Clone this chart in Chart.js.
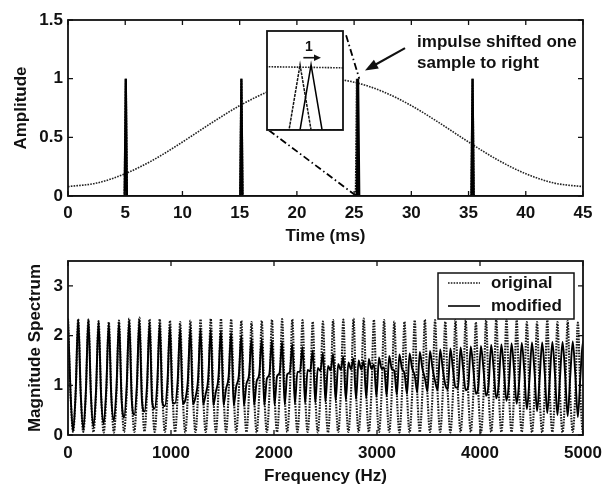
<!DOCTYPE html>
<html>
<head>
<meta charset="utf-8">
<script src="https://cdn.jsdelivr.net/npm/chart.js@4.4.1/dist/chart.umd.min.js"></script>
<style>
  html, body { margin: 0; padding: 0; background: #fff; }
  #wrap { position: relative; width: 603px; height: 487px; overflow: hidden; background: #fff; }
  canvas { position: absolute; }
</style>
</head>
<body>
<div id="wrap">
  <canvas id="timeChart" width="603" height="250" style="left:0;top:0"></canvas>
  <canvas id="zoomChart" width="78" height="101" style="left:266px;top:30px"></canvas>
  <canvas id="specChart" width="603" height="237" style="left:0;top:250px"></canvas>
</div>
<script>
const ink = "#111";
const font = { family: '"Liberation Sans", Arial, sans-serif', size: 17, weight: "bold" };

// top panel: window + impulse trains (ms)
const timeTicks = [0, 5, 10, 15, 20, 25, 30, 35, 40, 45];
const ampTicks = [0, 0.5, 1, 1.5];
const windowTimes = [0, 2.5, 5, 7.5, 10, 12.5, 15, 17.5, 20, 22.5, 25, 27.5, 30, 32.5, 35, 37.5, 40, 42.5, 45];
const windowValues = [0.08, 0.11, 0.19, 0.31, 0.46, 0.62, 0.77, 0.89, 0.97, 1.0, 0.97, 0.89, 0.77, 0.62, 0.46, 0.31, 0.19, 0.11, 0.08];
const origImpulseTimes = [5.05, 15.15, 25.25, 35.35];
const modImpulseTimes = [5.05, 15.15, 25.35, 35.35];
const impulseHeights = [1, 1, 1, 1];
const sampleMs = 0.1;

// bottom panel: magnitude spectra, 4 readings per ripple
const freqTicks = [0, 1000, 2000, 3000, 4000, 5000];
const magTicks = [0, 1, 2, 3];
const lobeSpacingHz = 99;
const origPeak = [2.34, 2.33, 2.32, 2.29, 2.27, 2.30, 2.34, 2.36, 2.33, 2.33,
  2.30, 2.27, 2.30, 2.33, 2.34, 2.34, 2.33, 2.30, 2.27, 2.30,
  2.32, 2.33, 2.33, 2.31, 2.28, 2.28, 2.31, 2.32, 2.34, 2.34,
  2.32, 2.31, 2.28, 2.28, 2.31, 2.32, 2.31, 2.28, 2.31, 2.31,
  2.27, 2.31, 2.34, 2.34, 2.31, 2.27, 2.27, 2.31, 2.27, 2.29, 2.26];
const origShoulder = [0.84, 0.84, 0.83, 0.82, 0.81, 0.82, 0.84, 0.85, 0.84, 0.84,
  0.82, 0.81, 0.82, 0.84, 0.84, 0.84, 0.84, 0.82, 0.81, 0.82,
  0.83, 0.84, 0.84, 0.83, 0.82, 0.82, 0.83, 0.83, 0.84, 0.84,
  0.83, 0.83, 0.82, 0.82, 0.83, 0.83, 0.83, 0.82, 0.83, 0.83,
  0.81, 0.83, 0.84, 0.84, 0.83, 0.81, 0.81, 0.83, 0.81, 0.82, 0.81];
const origDip = [0.06, 0.06, 0.06, 0.05, 0.05, 0.06, 0.06, 0.07, 0.06, 0.06,
  0.06, 0.05, 0.06, 0.06, 0.06, 0.06, 0.06, 0.06, 0.05, 0.06,
  0.06, 0.06, 0.06, 0.06, 0.05, 0.05, 0.06, 0.06, 0.06, 0.06,
  0.06, 0.06, 0.05, 0.05, 0.06, 0.06, 0.06, 0.05, 0.06, 0.06,
  0.05, 0.06, 0.06, 0.06, 0.06, 0.05, 0.05, 0.06, 0.05, 0.06, 0.05];
const modPeak = [2.34, 2.33, 2.32, 2.28, 2.25, 2.27, 2.30, 2.31, 2.26, 2.24,
  2.19, 2.14, 2.15, 2.15, 2.13, 2.10, 2.06, 2.00, 1.94, 1.93,
  1.90, 1.87, 1.83, 1.77, 1.70, 1.65, 1.63, 1.58, 1.54, 1.49,
  1.42, 1.36, 1.29, 1.24, 1.20, 1.14, 1.08, 1.01, 0.96, 0.90,
  0.83, 0.79, 0.74, 0.69, 0.63, 0.52, 0.48, 0.44, 0.40, 0.38, 0.36];
const modRise = [0.84, 0.82, 0.79, 0.77, 0.75, 0.73, 0.71, 0.69, 0.67, 0.66,
  0.64, 0.63, 0.62, 0.61, 0.60, 0.60, 0.59, 0.59, 0.60, 0.60,
  0.61, 0.61, 0.63, 0.64, 0.65, 0.67, 0.69, 0.70, 0.72, 0.74,
  0.77, 0.79, 0.81, 0.83, 0.86, 0.88, 0.90, 0.92, 0.95, 0.97,
  0.99, 1.02, 1.04, 1.06, 1.08, 1.10, 1.12, 1.14, 1.16, 1.17, 1.19];
const modHalf = [0.07, 0.11, 0.17, 0.23, 0.29, 0.35, 0.41, 0.47, 0.53, 0.58,
  0.64, 0.70, 0.76, 0.82, 0.87, 0.93, 0.98, 1.03, 1.08, 1.13,
  1.18, 1.22, 1.27, 1.31, 1.35, 1.39, 1.43, 1.46, 1.50, 1.53,
  1.56, 1.59, 1.62, 1.64, 1.67, 1.69, 1.72, 1.74, 1.76, 1.78,
  1.79, 1.81, 1.82, 1.84, 1.85, 1.86, 1.86, 1.87, 1.87, 1.88, 1.88];
const modFall = [0.85, 0.87, 0.90, 0.92, 0.94, 0.97, 0.99, 1.01, 1.03, 1.05,
  1.07, 1.09, 1.11, 1.13, 1.15, 1.17, 1.19, 1.20, 1.22, 1.23,
  1.25, 1.26, 1.27, 1.28, 1.29, 1.30, 1.31, 1.32, 1.32, 1.33,
  1.33, 1.33, 1.34, 1.34, 1.34, 1.34, 1.33, 1.33, 1.33, 1.32,
  1.31, 1.31, 1.30, 1.29, 1.28, 1.27, 1.26, 1.24, 1.23, 1.21, 1.20];

// annotations (data units of the top panel)
const noteLines = ["impulse shifted one", "sample to right"];
const noteAt = { x: 30.5, y: 1.31 };
const noteArrow = { from: { x: 29.45, y: 1.26 }, to: { x: 25.95, y: 1.07 } };
const zoomLineTop = [{ x: 24.3, y: 1.37 }, { x: 25.45, y: 1.0 }];
const zoomLineBottom = [{ x: 17.55, y: 0.56 }, { x: 25.2, y: 0 }];
const insetRange = { x: [24.95, 25.64], y: [0, 1.52] };
const insetShift = { from: 25.28, to: 25.44, y: 1.11, label: "1", labelX: 25.33, labelY: 1.27 };

const dotted = [1.6, 1.2];

function windowPoints() {
  return windowTimes.map((t, i) => ({ x: t, y: windowValues[i] }));
}

function impulsePoints(times) {
  const pts = [{ x: 0, y: 0 }];
  times.forEach((t, i) => {
    pts.push({ x: t - sampleMs, y: 0 }, { x: t, y: impulseHeights[i] }, { x: t + sampleMs, y: 0 });
  });
  pts.push({ x: 45, y: 0 });
  return pts;
}

function lobePoints(a, b, c, d) {
  const pts = [];
  a.forEach((v, k) => {
    pts.push({ x: k * lobeSpacingHz, y: v });
    pts.push({ x: (k + 0.25) * lobeSpacingHz, y: b[k] });
    pts.push({ x: (k + 0.5) * lobeSpacingHz, y: c[k] });
    pts.push({ x: (k + 0.75) * lobeSpacingHz, y: d[k] });
  });
  return pts;
}

function axis(min, max, ticks, title, fit, tickPad, titlePad) {
  return {
    type: "linear", min, max,
    afterBuildTicks: s => { s.ticks = ticks.map(v => ({ value: v })); },
    afterFit: s => {
      fit(s);
      s.paddingLeft = s.paddingRight = s.paddingTop = s.paddingBottom = 0;
    },
    grid: { display: false, drawTicks: false },
    border: { display: false },
    ticks: { color: ink, font, padding: tickPad, maxRotation: 0, autoSkip: false, callback: v => String(v) },
    title: { display: true, text: title, color: ink, font, padding: titlePad }
  };
}

// matlab style box with inward ticks on all sides
const boxPlugin = {
  id: "box",
  afterDatasetsDraw(chart) {
    const { ctx, chartArea: a, scales: { x, y } } = chart;
    ctx.save();
    ctx.strokeStyle = ink;
    ctx.lineWidth = 1.3;
    ctx.beginPath();
    x.ticks.forEach(t => {
      const px = x.getPixelForValue(t.value);
      ctx.moveTo(px, a.bottom); ctx.lineTo(px, a.bottom - 5);
      ctx.moveTo(px, a.top); ctx.lineTo(px, a.top + 5);
    });
    y.ticks.forEach(t => {
      const py = y.getPixelForValue(t.value);
      ctx.moveTo(a.left, py); ctx.lineTo(a.left + 5, py);
      ctx.moveTo(a.right, py); ctx.lineTo(a.right - 5, py);
    });
    ctx.stroke();
    ctx.lineWidth = 1.8;
    ctx.strokeRect(a.left, a.top, a.right - a.left, a.bottom - a.top);
    ctx.restore();
  }
};

function arrowHead(ctx, x0, y0, x1, y1, len, half) {
  const ang = Math.atan2(y1 - y0, x1 - x0);
  ctx.beginPath();
  ctx.moveTo(x1, y1);
  ctx.lineTo(x1 - len * Math.cos(ang) + half * Math.sin(ang), y1 - len * Math.sin(ang) - half * Math.cos(ang));
  ctx.lineTo(x1 - len * Math.cos(ang) - half * Math.sin(ang), y1 - len * Math.sin(ang) + half * Math.cos(ang));
  ctx.closePath();
  ctx.fill();
}

const notePlugin = {
  id: "note",
  afterDraw(chart) {
    const { ctx, scales: { x, y } } = chart;
    ctx.save();
    ctx.fillStyle = ink;
    ctx.strokeStyle = ink;
    ctx.lineWidth = 2.2;
    const x0 = x.getPixelForValue(noteArrow.from.x), y0 = y.getPixelForValue(noteArrow.from.y);
    const x1 = x.getPixelForValue(noteArrow.to.x), y1 = y.getPixelForValue(noteArrow.to.y);
    ctx.beginPath();
    ctx.moveTo(x0, y0);
    ctx.lineTo(x1 + (x0 - x1) * 0.2, y1 + (y0 - y1) * 0.2);
    ctx.stroke();
    arrowHead(ctx, x0, y0, x1, y1, 13, 5);
    ctx.font = `bold ${font.size}px ${font.family}`;
    ctx.textAlign = "left";
    ctx.textBaseline = "middle";
    const tx = x.getPixelForValue(noteAt.x), ty = y.getPixelForValue(noteAt.y);
    noteLines.forEach((line, i) => ctx.fillText(line, tx, ty + i * 21));
    ctx.restore();
  }
};

const legendPlugin = {
  id: "specLegend",
  afterDraw(chart) {
    const { ctx, chartArea: a } = chart;
    const left = a.right - 145, top = a.top + 12, w = 136, h = 46;
    ctx.save();
    ctx.fillStyle = "#fff";
    ctx.fillRect(left, top, w, h);
    ctx.strokeStyle = ink;
    ctx.lineWidth = 1.5;
    ctx.strokeRect(left, top, w, h);
    chart.data.datasets.forEach((ds, i) => {
      const yy = top + 10 + i * 23;
      ctx.strokeStyle = ds.borderColor;
      ctx.lineWidth = 1.6;
      ctx.setLineDash(ds.borderDash || []);
      ctx.beginPath();
      ctx.moveTo(left + 10, yy);
      ctx.lineTo(left + 42, yy);
      ctx.stroke();
      ctx.setLineDash([]);
      ctx.fillStyle = ink;
      ctx.font = `bold ${font.size}px ${font.family}`;
      ctx.textAlign = "left";
      ctx.textBaseline = "middle";
      ctx.fillText(ds.label, left + 53, yy);
    });
    ctx.restore();
  }
};

const insetPlugin = {
  id: "inset",
  beforeDraw(chart) {
    const { ctx, width, height } = chart;
    ctx.save();
    ctx.fillStyle = "#fff";
    ctx.fillRect(0, 0, width, height);
    ctx.restore();
  },
  afterDraw(chart) {
    const { ctx, chartArea: a, scales: { x, y } } = chart;
    ctx.save();
    ctx.strokeStyle = ink;
    ctx.fillStyle = ink;
    ctx.lineWidth = 1.8;
    ctx.strokeRect(a.left, a.top, a.right - a.left, a.bottom - a.top);
    const xa = x.getPixelForValue(insetShift.from), xb = x.getPixelForValue(insetShift.to);
    const ya = y.getPixelForValue(insetShift.y);
    ctx.lineWidth = 1.6;
    ctx.beginPath();
    ctx.moveTo(xa, ya);
    ctx.lineTo(xb - 6, ya);
    ctx.stroke();
    arrowHead(ctx, xa, ya, xb, ya, 7, 3.2);
    ctx.font = `bold 14px ${font.family}`;
    ctx.textAlign = "center";
    ctx.textBaseline = "middle";
    ctx.fillText(insetShift.label, x.getPixelForValue(insetShift.labelX), y.getPixelForValue(insetShift.labelY));
    ctx.restore();
  }
};

Chart.defaults.font.family = font.family;

new Chart(document.getElementById("timeChart").getContext("2d"), {
  type: "line",
  data: {
    datasets: [
      { label: "zoom top", data: zoomLineTop, borderColor: "#000", borderWidth: 1.8, borderDash: [7, 3, 1.5, 3], pointRadius: 0, order: 0 },
      { label: "zoom bottom", data: zoomLineBottom, borderColor: "#000", borderWidth: 1.8, borderDash: [7, 3, 1.5, 3], pointRadius: 0, order: 0 },
      { label: "modified", data: impulsePoints(modImpulseTimes), borderColor: "#000", borderWidth: 2.2, pointRadius: 0, order: 1 },
      { label: "original", data: impulsePoints(origImpulseTimes), borderColor: "#111", borderWidth: 2.2, borderDash: [2, 0.8], pointRadius: 0, order: 2 },
      { label: "window", data: windowPoints(), borderColor: "#222", borderWidth: 1.6, borderDash: dotted, pointRadius: 0, cubicInterpolationMode: "monotone", order: 3 }
    ]
  },
  options: {
    responsive: false,
    animation: false,
    layout: { padding: { left: 0, right: 20, top: 20, bottom: 0 } },
    plugins: { legend: { display: false }, tooltip: { enabled: false } },
    scales: {
      x: axis(0, 45, timeTicks, "Time (ms)", s => { s.height = 54; }, 7.5, { top: 0, bottom: 3.8 }),
      y: axis(0, 1.5, ampTicks, "Amplitude", s => { s.width = 68; }, 5, { top: 10.8, bottom: 0 })
    }
  },
  plugins: [boxPlugin, notePlugin]
});

new Chart(document.getElementById("zoomChart").getContext("2d"), {
  type: "line",
  data: {
    datasets: [
      { label: "modified", data: impulsePoints(modImpulseTimes), borderColor: "#000", borderWidth: 1.5, pointRadius: 0, order: 0 },
      { label: "original", data: impulsePoints(origImpulseTimes), borderColor: "#111", borderWidth: 1.5, borderDash: [3, 1], pointRadius: 0, order: 1 },
      { label: "window", data: windowPoints(), borderColor: "#222", borderWidth: 1.6, borderDash: dotted, pointRadius: 0, cubicInterpolationMode: "monotone", order: 2 }
    ]
  },
  options: {
    responsive: false,
    animation: false,
    layout: { padding: 1 },
    plugins: { legend: { display: false }, tooltip: { enabled: false } },
    scales: {
      x: { type: "linear", display: false, min: insetRange.x[0], max: insetRange.x[1] },
      y: { type: "linear", display: false, min: insetRange.y[0], max: insetRange.y[1] }
    }
  },
  plugins: [insetPlugin]
});

new Chart(document.getElementById("specChart").getContext("2d"), {
  type: "line",
  data: {
    datasets: [
      { label: "original", data: lobePoints(origPeak, origShoulder, origDip, origShoulder), borderColor: "#1a1a1a", borderWidth: 2.1, borderDash: dotted, pointRadius: 0, cubicInterpolationMode: "monotone", order: 1 },
      { label: "modified", data: lobePoints(modPeak, modRise, modHalf, modFall), borderColor: "#000", borderWidth: 1.9, pointRadius: 0, cubicInterpolationMode: "monotone", order: 0 }
    ]
  },
  options: {
    responsive: false,
    animation: false,
    layout: { padding: { left: 0, right: 20, top: 11, bottom: 0 } },
    plugins: { legend: { display: false }, tooltip: { enabled: false } },
    scales: {
      x: axis(0, 5000, freqTicks, "Frequency (Hz)", s => { s.height = 52; }, 8, { top: 0, bottom: 0.3 }),
      y: axis(0, 3.5, magTicks, "Magnitude Spectrum", s => { s.width = 68; }, 5, { top: 24.8, bottom: 0 })
    }
  },
  plugins: [boxPlugin, legendPlugin]
});
</script>
</body>
</html>
